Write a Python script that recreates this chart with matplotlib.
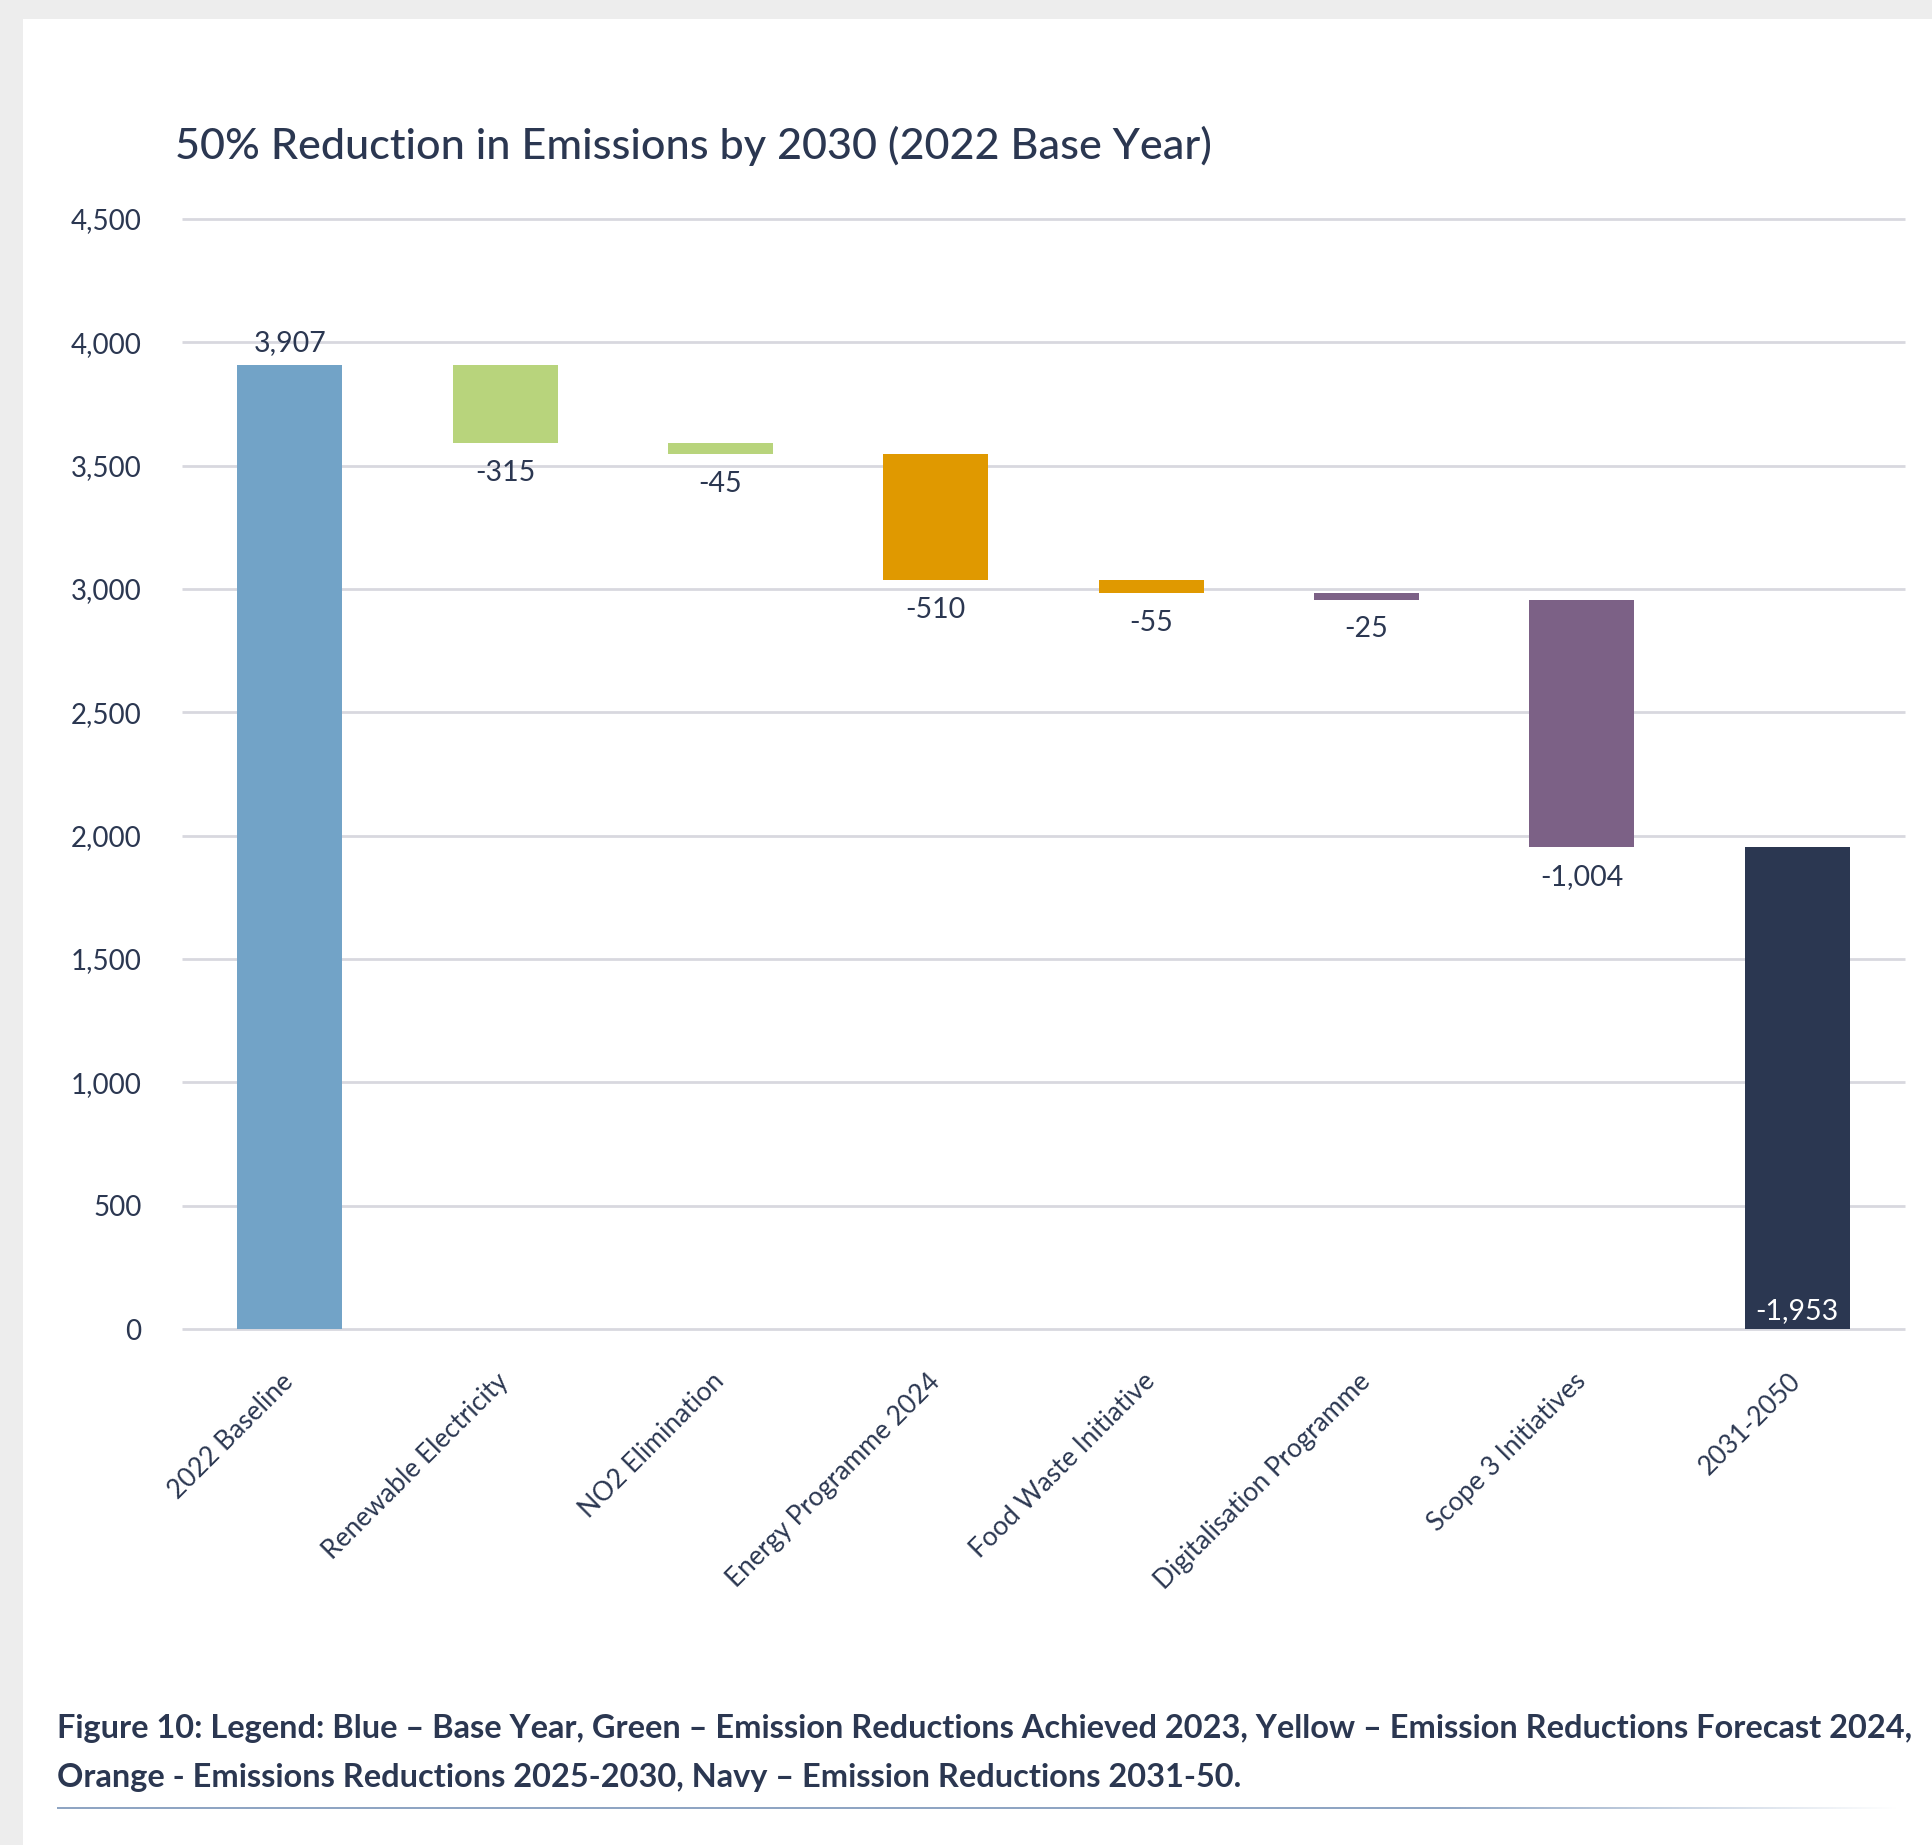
import matplotlib.pyplot as plt
from matplotlib.patches import Rectangle
import numpy as np

plt.rcParams['font.family'] = ['Lato', 'DejaVu Sans']

# waterfall data (tCO2e)
categories = ['2022 Baseline', 'Renewable Electricity', 'NO2 Elimination',
              'Energy Programme 2024', 'Food Waste Initiative',
              'Digitalisation Programme', 'Scope 3 Initiatives', '2031-2050']
baseline = 3907
reductions = [-315, -45, -510, -55, -25, -1004]
yticks = [0, 500, 1000, 1500, 2000, 2500, 3000, 3500, 4000, 4500]

ink = '#2B3751'
colors = ['#72A3C7', '#B8D47C', '#B8D47C', '#E09900', '#E09900',
          '#7C6186', '#7C6186', '#2B3751']

# running totals for floating bars
remaining = baseline + sum(reductions)
tops = [baseline]
bottoms = [0]
level = baseline
for r in reductions:
    tops.append(level)
    level += r
    bottoms.append(level)
tops.append(remaining)
bottoms.append(0)
heights = np.array(tops) - np.array(bottoms)

W, H = 1933, 1845
fig = plt.figure(figsize=(W / 100, H / 100), dpi=100, facecolor='#EDEDED')
fig.patches.append(Rectangle((23 / W, 0), 1, 1 - 19 / H, transform=fig.transFigure,
                             facecolor='white', edgecolor='none', zorder=-5))

ax = fig.add_axes([182 / W, 1 - 1329 / H, 1723 / W, 1110 / H])
ax.set_facecolor('none')
x = np.arange(len(categories))
ax.bar(x, heights, bottom=bottoms, width=0.487, color=colors, zorder=3)

ax.set_xlim(-0.5, len(categories) - 0.5)
ax.set_ylim(0, 4500)
ax.hlines(yticks, -0.5, len(categories) - 0.5, color='#D8D8DF', lw=2, zorder=1, clip_on=False)
for s in ax.spines.values():
    s.set_visible(False)

ax.set_yticks(yticks)
ax.set_yticklabels([f'{v:,}' for v in yticks])
ax.tick_params(axis='y', length=0, pad=29, labelsize=20, labelcolor=ink)
ax.set_xticks(x)
ax.set_xticklabels(categories, rotation=45, ha='right', va='center',
                   rotation_mode='anchor')
ax.tick_params(axis='x', length=0, pad=35, labelsize=19, labelcolor=ink)

# value labels
ax.annotate(f'{baseline:,}', (0, tops[0]), xytext=(0, 10), textcoords='offset points',
            ha='center', va='baseline', fontsize=20.5, color=ink)
for i, r in enumerate(reductions, start=1):
    ax.annotate(f'{r:,}', (i, bottoms[i]), xytext=(0, -12), textcoords='offset points',
                ha='center', va='top', fontsize=20.5, color=ink)
ax.annotate(f'-{remaining:,}', (len(categories) - 1, 0), xytext=(0, 7),
            textcoords='offset points', ha='center', va='baseline', fontsize=20.5,
            color='white', zorder=5)

fig.text(175 / W, 1 - 159 / H, '50% Reduction in Emissions by 2030 (2022 Base Year)',
         fontsize=31.1, color=ink, fontweight='medium', va='baseline')

fig.text(57 / W, 1 - 1738 / H,
         'Figure 10: Legend: Blue \u2013 Base Year, Green \u2013 Emission Reductions Achieved 2023, '
         'Yellow \u2013 Emission Reductions Forecast 2024,',
         fontsize=23.4, fontweight='bold', color=ink, va='baseline')
fig.text(57 / W, 1 - 1787 / H,
         'Orange - Emissions Reductions 2025-2030, Navy \u2013 Emission Reductions 2031-50.',
         fontsize=23.4, fontweight='bold', color=ink, va='baseline')

# rule under the caption, fading out on the right
rule = fig.add_axes([57 / W, 1 - 1809 / H, 1843 / W, 2 / H])
fade = np.ones((1, 400, 4))
fade[..., :3] = [0x8F / 255, 0xA5 / 255, 0xC3 / 255]
fade[0, :, 3] = np.clip((1843 - np.linspace(0, 1843, 400)) / 450, 0, 1)
rule.imshow(fade, aspect='auto', interpolation='bilinear')
rule.axis('off')

fig.savefig('out.png', dpi=100, facecolor=fig.get_facecolor())
